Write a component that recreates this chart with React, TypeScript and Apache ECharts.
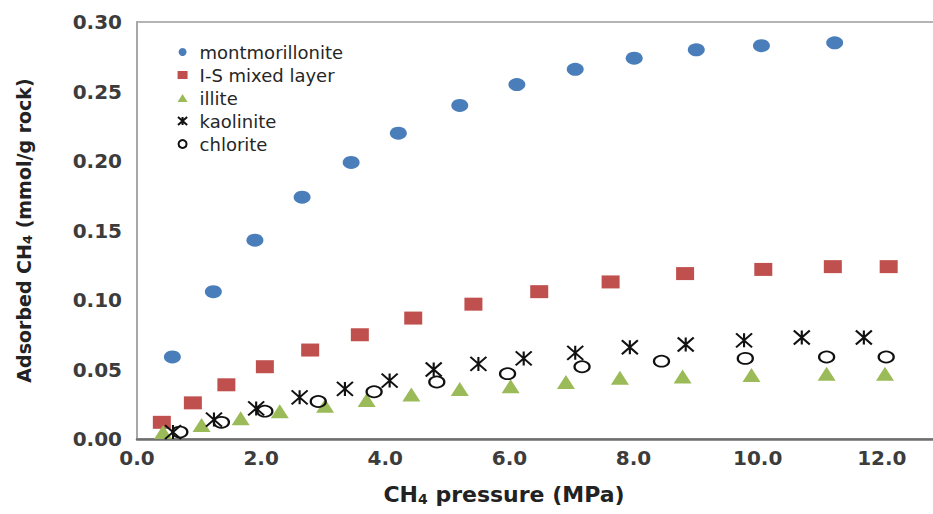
import React, { useEffect, useRef } from "react";
import * as echarts from "echarts";

const montX = [0.57, 1.23, 1.9, 2.66, 3.45, 4.21, 5.2, 6.12, 7.06, 8.01, 9.01, 10.06, 11.24];
const montY = [0.059, 0.106, 0.143, 0.174, 0.199, 0.22, 0.24, 0.255, 0.266, 0.274, 0.28, 0.283, 0.285];

const isX = [0.4, 0.9, 1.44, 2.06, 2.79, 3.59, 4.45, 5.42, 6.48, 7.63, 8.83, 10.09, 11.21, 12.11];
const isY = [0.012, 0.026, 0.039, 0.052, 0.064, 0.075, 0.087, 0.097, 0.106, 0.113, 0.119, 0.122, 0.124, 0.124];

const illX = [0.42, 1.04, 1.67, 2.3, 3.03, 3.7, 4.42, 5.2, 6.02, 6.91, 7.78, 8.79, 9.9, 11.11, 12.05];
const illY = [0.005, 0.01, 0.015, 0.02, 0.024, 0.028, 0.032, 0.036, 0.038, 0.041, 0.044, 0.045, 0.046, 0.047, 0.047];

const kaoX = [0.58, 1.24, 1.92, 2.62, 3.35, 4.07, 4.78, 5.5, 6.23, 7.06, 7.94, 8.84, 9.78, 10.71, 11.71];
const kaoY = [0.005, 0.014, 0.022, 0.03, 0.036, 0.042, 0.05, 0.054, 0.058, 0.062, 0.066, 0.068, 0.071, 0.073, 0.073];

const chlX = [0.69, 1.36, 2.06, 2.92, 3.82, 4.83, 5.97, 7.17, 8.45, 9.8, 11.11, 12.07];
const chlY = [0.005, 0.012, 0.02, 0.027, 0.034, 0.041, 0.047, 0.052, 0.056, 0.058, 0.059, 0.059];

const seriesNames = ["montmorillonite", "I-S mixed layer", "illite", "kaolinite", "chlorite"];

const zip = (xs: number[], ys: number[]) => xs.map((x, i) => [x, ys[i]]);

const FONT = "DejaVu Sans";
const ASTERISK = "path://M0,0L16,14M0,14L16,0M8,0L8,14";

export default function App() {
  const ref = useRef<HTMLDivElement>(null);
  useEffect(() => {
    if (!ref.current) return;
    const chart = echarts.init(ref.current, undefined, { renderer: "svg" });
    chart.setOption({
      animation: false,
      backgroundColor: "#fff",
      grid: {
        left: 137,
        top: 22,
        width: 869,
        height: 417,
        show: true,
        borderColor: "#b4b4b4",
        borderWidth: 2,
        containLabel: false,
        outerBoundsMode: "none",
      },
      legend: {
        orient: "vertical",
        left: 172,
        top: 38,
        itemWidth: 10,
        itemHeight: 8,
        itemGap: 5,
        data: seriesNames,
        textStyle: {
          fontFamily: FONT,
          fontSize: 18,
          color: "#262626",
          padding: [0, 0, 0, 7],
        },
      },
      xAxis: {
        type: "value",
        min: 0,
        max: 14,
        interval: 2,
        splitLine: { show: false },
        axisTick: { show: false },
        axisLine: { show: true, onZero: false, lineStyle: { color: "#6e6e6e", width: 2.5 } },
        axisLabel: {
          margin: 9,
          showMaxLabel: false,
          fontFamily: FONT,
          fontSize: 20,
          fontWeight: "bold",
          color: "#3c3c3c",
          formatter: (v: number) => (v > 12.5 ? "" : v.toFixed(1)),
        },
      },
      yAxis: {
        type: "value",
        min: 0,
        max: 0.3,
        interval: 0.05,
        splitLine: { show: false },
        axisTick: { show: false },
        axisLine: { show: true, onZero: false, lineStyle: { color: "#a8a8a8", width: 2 } },
        axisLabel: {
          margin: 15,
          fontFamily: FONT,
          fontSize: 20,
          fontWeight: "bold",
          color: "#3c3c3c",
          formatter: (v: number) => v.toFixed(2),
        },
        name: "{a|Adsorbed CH}{s|4}{a| (mmol/g rock)}",
        nameLocation: "middle",
        nameRotate: 90,
        nameGap: 103,
        nameTextStyle: {
          rich: {
            a: { fontFamily: FONT, fontSize: 19, fontWeight: "bold", color: "#222" },
            s: { fontFamily: FONT, fontSize: 13, fontWeight: "bold", color: "#222", verticalAlign: "bottom", padding: [8, 0, 0, 0] },
          },
        },
      },
      graphic: [
        {
          type: "text",
          x: 504,
          y: 494,
          style: {
            text: "{a|CH}{s|4}{a| pressure (MPa)}",
            align: "center",
            verticalAlign: "middle",
            rich: {
              a: { fontFamily: FONT, fontSize: 22, fontWeight: "bold", fill: "#222", color: "#222" },
              s: { fontFamily: FONT, fontSize: 14, fontWeight: "bold", fill: "#222", color: "#222", padding: [10, 0, 0, 0] },
            },
          },
        },
      ],
      series: [
        {
          name: seriesNames[0],
          type: "scatter",
          symbol: "circle",
          symbolSize: [17, 13],
          itemStyle: { color: "#4a7ebb", opacity: 1 },
          data: zip(montX, montY),
        },
        {
          name: seriesNames[1],
          type: "scatter",
          symbol: "rect",
          symbolSize: [18, 13],
          itemStyle: { color: "#c0504d", opacity: 1 },
          data: zip(isX, isY),
        },
        {
          name: seriesNames[2],
          type: "scatter",
          symbol: "triangle",
          symbolSize: [18, 14],
          itemStyle: { color: "#9bbb59", opacity: 1 },
          data: zip(illX, illY),
        },
        {
          name: seriesNames[3],
          type: "scatter",
          symbol: ASTERISK,
          symbolSize: [16, 14],
          itemStyle: { color: "#111", borderColor: "#111", borderWidth: 2, opacity: 1 },
          data: zip(kaoX, kaoY),
        },
        {
          name: seriesNames[4],
          type: "scatter",
          symbol: "circle",
          symbolSize: [15, 11],
          itemStyle: { color: "rgba(0,0,0,0)", borderColor: "#111", borderWidth: 2, opacity: 1 },
          data: zip(chlX, chlY),
        },
      ],
    });
    return () => chart.dispose();
  }, []);
  return (
    <div
      ref={ref}
      style={{ position: "fixed", left: 0, top: 0, width: 933, height: 514 }}
    />
  );
}
